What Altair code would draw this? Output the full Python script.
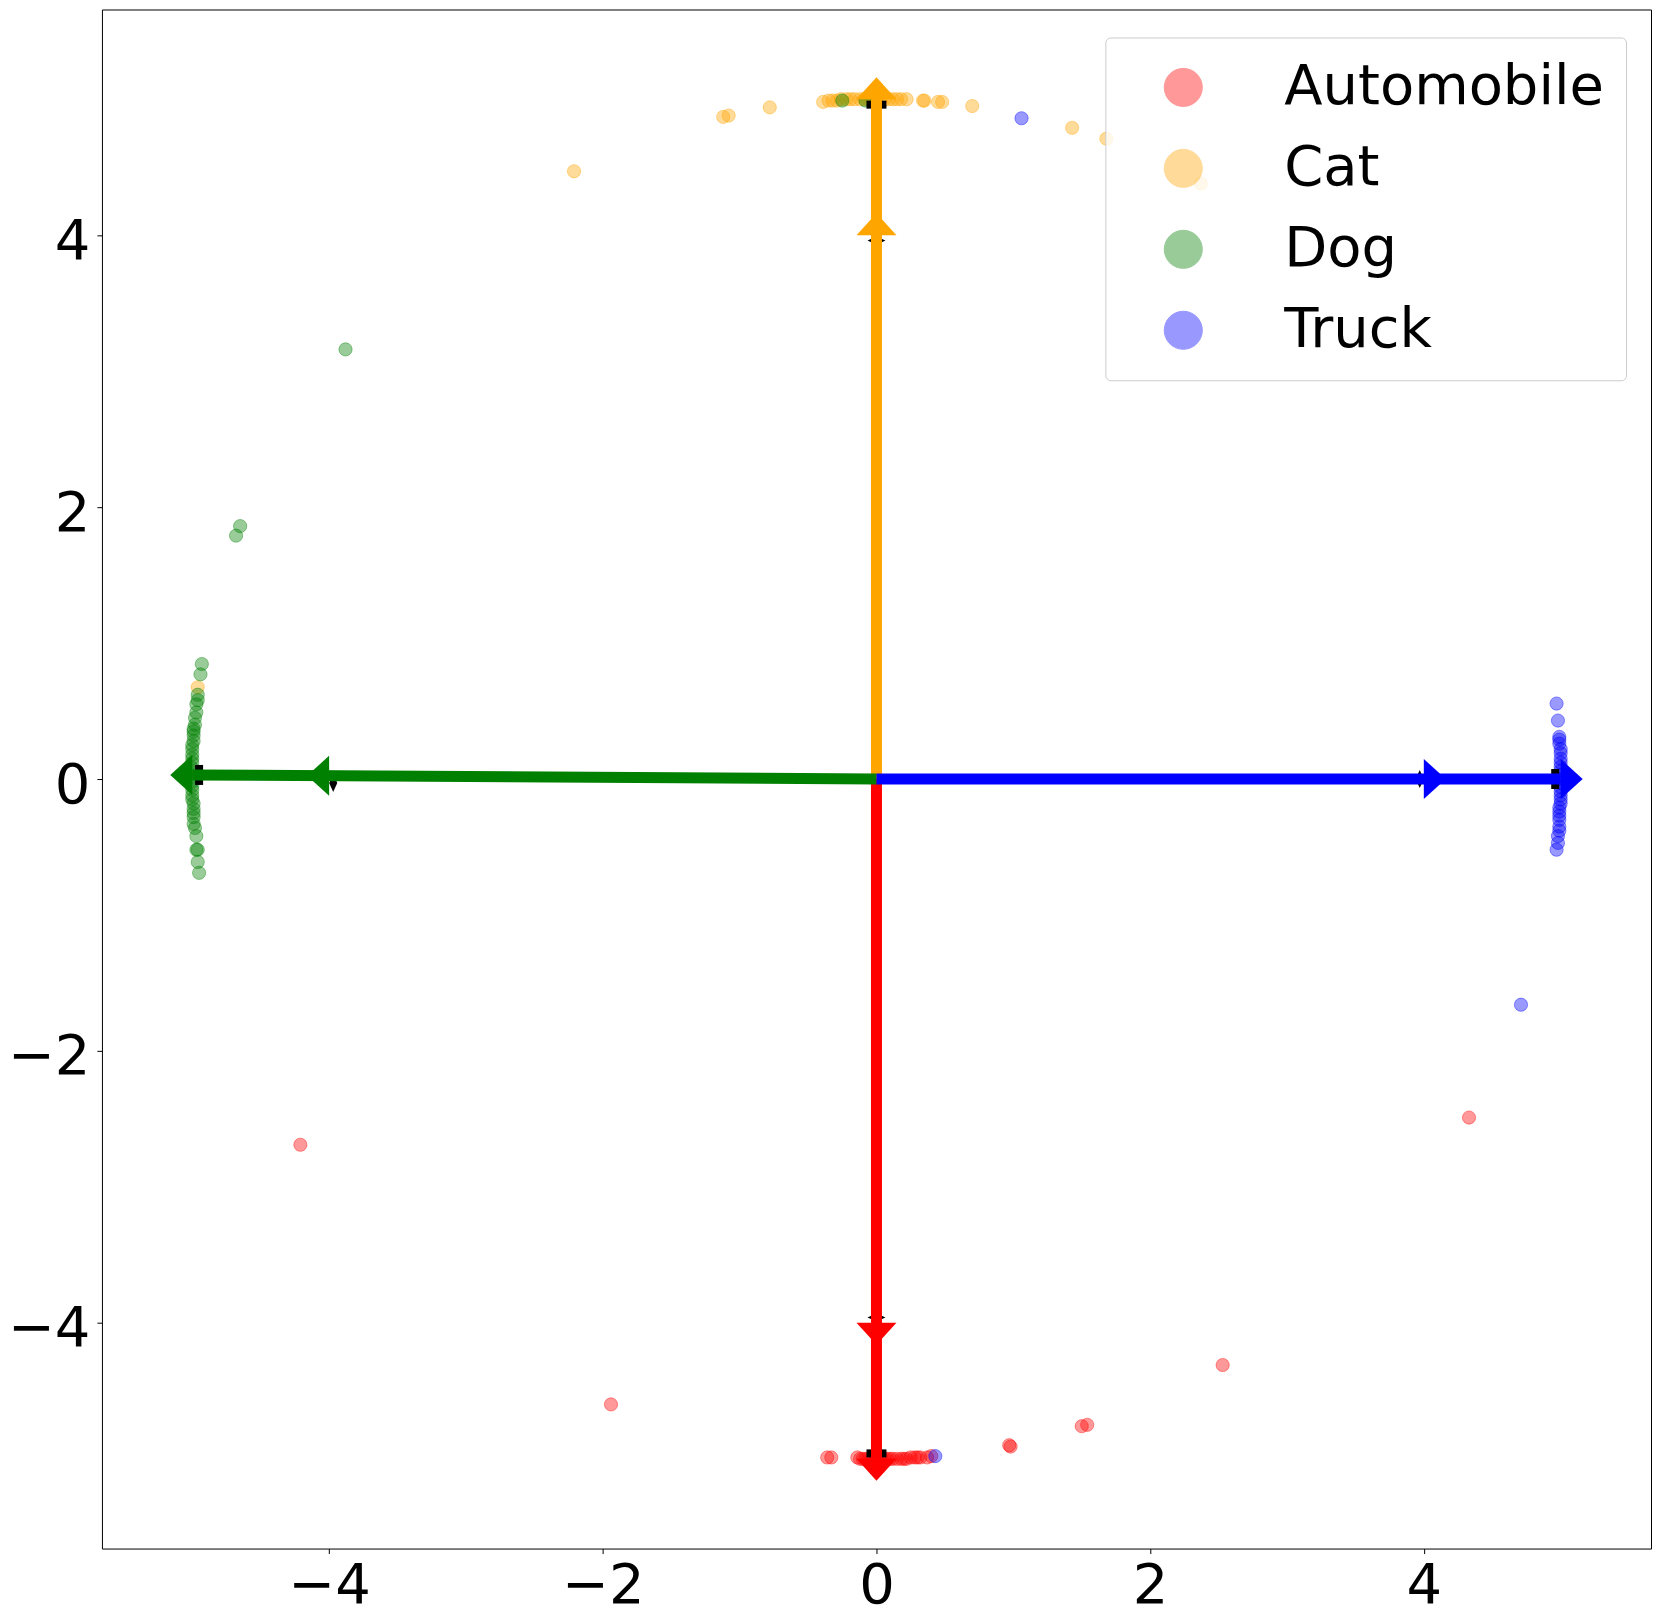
import altair as alt
import pandas as pd

classes = ["Automobile", "Cat", "Dog", "Truck"]
colors = ["#ff0000", "#ffa500", "#008000", "#0000ff"]

# ---- scatter points ----
auto_x = [-4.21, -1.94, 0.97, 0.98, 1.50, 1.54, 2.53, 4.33,
          -0.36, -0.33, -0.14, -0.12, -0.10, -0.08, -0.06, -0.04, -0.02, 0.00, 0.02, 0.04,
          0.06, 0.08, 0.10, 0.12, 0.15, 0.18, 0.20, 0.22, 0.25, 0.28, 0.30, 0.32, 0.37, 0.40]
auto_y = [-2.69, -4.60, -4.90, -4.91, -4.76, -4.75, -4.31, -2.49,
          -4.99, -4.99, -4.99, -5.00, -5.00, -5.00, -5.00, -5.00, -5.00, -5.00, -5.00, -5.00,
          -5.00, -5.00, -5.00, -5.00, -5.00, -5.00, -5.00, -5.00, -4.99, -4.99, -4.99, -4.99, -4.99, -4.98]

cat_x = [-2.21, -1.12, -1.08, -0.78, 0.70, 1.43, 1.68, 2.37, -4.96,
         -0.39, -0.35, -0.32, -0.29, -0.26, -0.22, -0.19, -0.16, -0.12, -0.09, -0.06, -0.03,
         0.00, 0.03, 0.06, 0.09, 0.12, 0.15, 0.18, 0.22, 0.34, 0.35, 0.45, 0.48]
cat_y = [4.47, 4.87, 4.88, 4.94, 4.95, 4.79, 4.71, 4.38, 0.675,
         4.98, 4.99, 4.99, 4.99, 5.00, 5.00, 5.00, 5.00, 5.00, 5.00, 5.00, 5.00,
         5.00, 5.00, 5.00, 5.00, 5.00, 5.00, 5.00, 5.00, 4.99, 4.99, 4.98, 4.98]

dog_x = [-3.88, -4.65, -4.68, -0.25, -0.08,
         -4.93, -4.94, -4.96, -4.96, -4.97, -4.97, -4.98, -4.98, -4.99, -4.99, -4.99, -4.99,
         -5.00, -5.00, -5.00, -5.00, -5.00, -5.00, -5.00, -5.00, -5.00, -5.00, -5.00, -5.00,
         -5.00, -4.99, -4.99, -4.99, -4.99, -4.99, -4.98, -4.97, -4.97, -4.96, -4.96, -4.95]
dog_y = [3.16, 1.86, 1.79, 4.99, 4.99,
         0.846, 0.77, 0.62, 0.58, 0.55, 0.49, 0.45, 0.40, 0.37, 0.35, 0.32, 0.28,
         0.25, 0.22, 0.18, 0.15, 0.12, 0.08, 0.05, 0.02, -0.02, -0.05, -0.08, -0.12,
         -0.15, -0.18, -0.22, -0.25, -0.28, -0.33, -0.36, -0.42, -0.52, -0.52, -0.61, -0.69]

truck_x = [1.06, 4.71, 0.43,
           4.97, 4.98, 4.99, 4.99, 4.99, 5.00, 5.00, 5.00, 5.00, 5.00, 5.00, 5.00, 5.00,
           5.00, 5.00, 5.00, 5.00, 5.00, 5.00, 4.99, 4.99, 4.99, 4.99, 4.99, 4.99, 4.98, 4.98, 4.97]
truck_y = [4.86, -1.66, -4.98,
           0.555, 0.43, 0.31, 0.29, 0.26, 0.22, 0.19, 0.15, 0.12, 0.09, 0.06, 0.03, 0.00,
           -0.03, -0.06, -0.09, -0.12, -0.15, -0.18, -0.21, -0.24, -0.27, -0.30, -0.35, -0.38, -0.42, -0.47, -0.52]

# ---- arrows ----
arrow_end_x = [0.0, 0.0, -5.0, 5.0]
arrow_end_y = [-5.0, 5.0, 0.03, 0.0]
head_mid_x = [0.0, 0.0, -4.0, 4.0]
head_mid_y = [-4.0, 4.0, 0.024, 0.0]
head_angle = [180, 0, 270, 90]
# black markers (centroids)
cent_in_x = [0.0, 0.0, -3.97, 3.97]
cent_in_y = [-3.96, 3.96, -0.03, 0.0]
cent_out_x = [0.0, 0.0, -4.95, 4.96]
cent_out_y = [-4.96, 4.96, 0.03, 0.0]

xticks = [-4, -2, 0, 2, 4]
yticks = [-4, -2, 0, 2, 4]
domain = [-5.66, 5.66]

pts = pd.concat([
    pd.DataFrame({"x": auto_x, "y": auto_y, "cls": "Automobile"}),
    pd.DataFrame({"x": cat_x, "y": cat_y, "cls": "Cat"}),
    pd.DataFrame({"x": dog_x, "y": dog_y, "cls": "Dog"}),
    pd.DataFrame({"x": truck_x, "y": truck_y, "cls": "Truck"}),
], ignore_index=True)

rows = []
for i, c in enumerate(classes):
    rows.append({"x": 0.0, "y": 0.0, "cls": c, "o": 0})
    rows.append({"x": arrow_end_x[i], "y": arrow_end_y[i], "cls": c, "o": 1})
lines = pd.DataFrame(rows)

heads = pd.DataFrame({
    "x": head_mid_x + arrow_end_x,
    "y": head_mid_y + arrow_end_y,
    "cls": classes + classes,
    "angle": head_angle + head_angle,
})
black_in = pd.DataFrame({"x": cent_in_x, "y": cent_in_y, "angle": head_angle})
black_out = pd.DataFrame({"x": cent_out_x, "y": cent_out_y, "angle": head_angle})

cscale = alt.Scale(domain=classes, range=colors)
xenc = alt.X("x:Q", scale=alt.Scale(domain=domain, nice=False, zero=False),
             axis=alt.Axis(values=xticks, title=None, grid=False, domain=False,
                           labelPadding=5, tickSize=5))
yenc = alt.Y("y:Q", scale=alt.Scale(domain=domain, nice=False, zero=False),
             axis=alt.Axis(values=yticks, title=None, grid=False, domain=False,
                           labelPadding=7, tickSize=5, labelOffset=6))

legend = alt.Legend(title=None, orient="none", legendX=1004, legendY=28)

points = alt.Chart(pts).mark_point(
    filled=True, size=175, fillOpacity=0.4, strokeOpacity=0.4, strokeWidth=1
).encode(
    x=xenc, y=yenc,
    fill=alt.Fill("cls:N", scale=cscale, legend=legend),
    stroke=alt.Stroke("cls:N", scale=cscale, legend=legend),
)

blk_out = alt.Chart(black_out).mark_point(
    shape="M-1,-0.4L1,-0.4L1,0.4L-1,0.4Z", filled=True, size=400, color="black", opacity=1
).encode(x=xenc, y=yenc, angle=alt.Angle("angle:Q", scale=None))

blk_in = alt.Chart(black_in).mark_point(
    shape="M-1,0L0,-0.45L1,0L0,0.45Z", filled=True, size=324, color="black", opacity=1
).encode(x=xenc, y=yenc, angle=alt.Angle("angle:Q", scale=None))

arrow_lines = alt.Chart(lines).mark_line(strokeWidth=11, strokeCap="butt").encode(
    x=xenc, y=yenc,
    color=alt.Color("cls:N", scale=cscale, legend=None),
    order="o:Q",
)

arrow_heads = alt.Chart(heads).mark_point(
    shape="M-1,0L0,-1.1L1,0Z", filled=True, size=1600, opacity=1, strokeWidth=0
).encode(
    x=xenc, y=yenc,
    fill=alt.Fill("cls:N", scale=cscale, legend=None),
    angle=alt.Angle("angle:Q", scale=None),
)

chart = alt.layer(points, blk_out, blk_in, arrow_lines, arrow_heads).properties(
    width=1550, height=1540,
    autosize=alt.AutoSizeParams(type="none"),
    padding={"left": 94, "top": 1, "right": 2, "bottom": 70},
    background="white",
).configure_view(
    stroke="black", strokeWidth=1, fill="white"
).configure_axis(
    labelFont="DejaVu Sans", labelFontSize=56, labelColor="black",
    tickColor="black", tickWidth=1,
).configure_legend(
    labelFont="DejaVu Sans", labelFontSize=56, labelColor="black", labelLimit=500,
    symbolType="circle", symbolSize=1450, symbolOpacity=0.4, symbolStrokeWidth=1,
    padding=22, rowPadding=25, symbolOffset=28, labelOffset=73,
    strokeColor="#cccccc", fillColor="rgba(255,255,255,0.8)", cornerRadius=5,
)

chart.save("out.html", embed_options={"renderer": "svg", "actions": False})
